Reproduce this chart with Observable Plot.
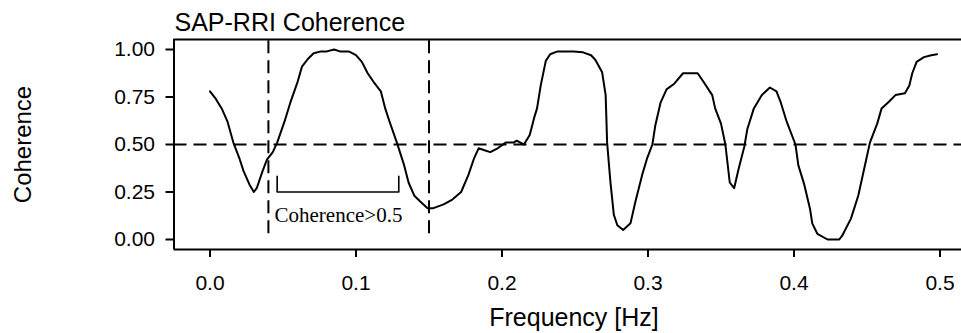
<!DOCTYPE html>
<html>
<head>
<meta charset="utf-8">
<script src="https://cdn.jsdelivr.net/npm/d3@7"></script>
<script src="https://cdn.jsdelivr.net/npm/@observablehq/plot@0.6"></script>
<style>
  html, body { margin: 0; padding: 0; background: #fff; }
  #chart svg { display: block; }
</style>
</head>
<body>
<div id="chart"></div>
<script>
// Frequency [Hz] and coherence
const freq = [0.000,0.004,0.008,0.012,0.016,0.020,0.023,0.027,0.030,0.032,0.036,0.039,0.043,0.046,0.051,0.055,0.060,0.063,0.067,0.071,0.076,0.080,0.085,0.089,0.095,0.100,0.104,0.108,0.112,0.117,0.120,0.123,0.128,0.133,0.136,0.140,0.144,0.149,0.153,0.160,0.166,0.172,0.177,0.181,0.184,0.188,0.192,0.197,0.2025,0.208,0.210,0.215,0.219,0.222,0.224,0.2265,0.230,0.233,0.238,0.249,0.2555,0.261,0.264,0.2686,0.271,0.272,0.2743,0.2766,0.279,0.283,0.288,0.2914,0.296,0.2995,0.303,0.305,0.3086,0.3127,0.318,0.324,0.334,0.338,0.344,0.346,0.350,0.353,0.356,0.359,0.362,0.366,0.368,0.3725,0.378,0.3835,0.388,0.391,0.395,0.401,0.403,0.407,0.411,0.4125,0.416,0.423,0.431,0.433,0.439,0.444,0.448,0.452,0.457,0.460,0.465,0.4695,0.476,0.479,0.481,0.484,0.489,0.494,0.498];
const coherence = [0.78,0.74,0.69,0.62,0.51,0.43,0.36,0.29,0.25,0.27,0.36,0.42,0.46,0.51,0.62,0.72,0.83,0.91,0.95,0.98,0.99,0.99,1.00,0.99,0.99,0.97,0.935,0.875,0.83,0.78,0.69,0.62,0.51,0.39,0.30,0.23,0.20,0.165,0.165,0.185,0.21,0.25,0.34,0.43,0.48,0.47,0.46,0.48,0.51,0.51,0.52,0.50,0.55,0.64,0.69,0.81,0.94,0.975,0.99,0.99,0.985,0.97,0.945,0.88,0.76,0.51,0.30,0.13,0.075,0.05,0.085,0.20,0.34,0.43,0.50,0.60,0.72,0.79,0.82,0.875,0.875,0.83,0.76,0.69,0.61,0.50,0.30,0.27,0.37,0.49,0.58,0.69,0.76,0.80,0.78,0.72,0.62,0.50,0.39,0.29,0.16,0.085,0.03,0.00,0.00,0.02,0.11,0.23,0.37,0.51,0.61,0.69,0.725,0.76,0.77,0.81,0.875,0.935,0.96,0.97,0.975];

const xTicks = [0, 0.1, 0.2, 0.3, 0.4, 0.5];
const yTicks = [0, 0.25, 0.5, 0.75, 1];
const bandLimits = [0.04, 0.15];     // vertical dashed lines (LF band)
const threshold = [0.5];             // horizontal dashed line
const bracketF = [0.046, 0.1293];    // annotation bracket ends
const bracketV = [0.25, 0.333];      // bracket base and tick tops
const titleText = "SAP-RRI Coherence";
const xLabel = "Frequency [Hz]";
const yLabel = "Coherence";
const noteText = "Coherence>0.5";

const data = freq.map((f, i) => ({f, c: coherence[i]}));
const xDomain = [-0.02466, 0.51473];
const yDomain = [-0.05263, 1.05263];
const bracket = [
  {f: bracketF[0], v: bracketV[1]},
  {f: bracketF[0], v: bracketV[0]},
  {f: bracketF[1], v: bracketV[0]},
  {f: bracketF[1], v: bracketV[1]}
];

const chart = Plot.plot({
  width: 961,
  height: 333,
  marginLeft: 173.5,
  marginRight: 0,
  marginTop: 39,
  marginBottom: 84,
  style: {fontFamily: "'Liberation Sans', Arial, Helvetica, sans-serif", fontSize: "21px", color: "#000", background: "#fff"},
  x: {domain: xDomain},
  y: {domain: yDomain},
  marks: [
    // open box (left, top, bottom)
    Plot.ruleY([yDomain[0], yDomain[1]], {stroke: "#000", strokeWidth: 2}),
    Plot.ruleX([xDomain[0]], {stroke: "#000", strokeWidth: 2}),
    Plot.axisX(xTicks, {tickSize: 8, tickPadding: 18, strokeWidth: 2, tickFormat: d3.format(".1f"), fontSize: 21, label: null}),
    Plot.axisY(yTicks, {tickSize: 8, tickPadding: 11, strokeWidth: 2, tickFormat: d3.format(".2f"), fontSize: 21, label: null}),
    // reference lines
    Plot.ruleY(threshold, {stroke: "#000", strokeWidth: 2, strokeDasharray: "13,7"}),
    Plot.ruleX(bandLimits, {y1: 0.03, y2: yDomain[1], stroke: "#000", strokeWidth: 2, strokeDasharray: "13,7"}),
    // coherence curve
    Plot.line(data, {x: "f", y: "c", stroke: "#000", strokeWidth: 2}),
    // bracket annotation
    Plot.line(bracket, {x: "f", y: "v", stroke: "#000", strokeWidth: 1.6}),
    Plot.text([noteText], {x: 0.0442, y: 0.091, text: d => d, textAnchor: "start", lineAnchor: "bottom", fontFamily: "'Liberation Serif', 'Times New Roman', serif", fontSize: 21}),
    // title and axis labels
    Plot.text([titleText], {frameAnchor: "top-left", text: d => d, textAnchor: "start", lineAnchor: "bottom", dx: 0.5, dy: -8.5, fontSize: 25}),
    Plot.text([xLabel], {x: 0.2493, frameAnchor: "bottom", text: d => d, textAnchor: "middle", lineAnchor: "bottom", dy: 76, fontSize: 25}),
    Plot.text([yLabel], {frameAnchor: "left", text: d => d, rotate: -90, textAnchor: "middle", lineAnchor: "bottom", dx: -143.5, fontSize: 24})
  ]
});
document.getElementById("chart").appendChild(chart);
</script>
</body>
</html>
